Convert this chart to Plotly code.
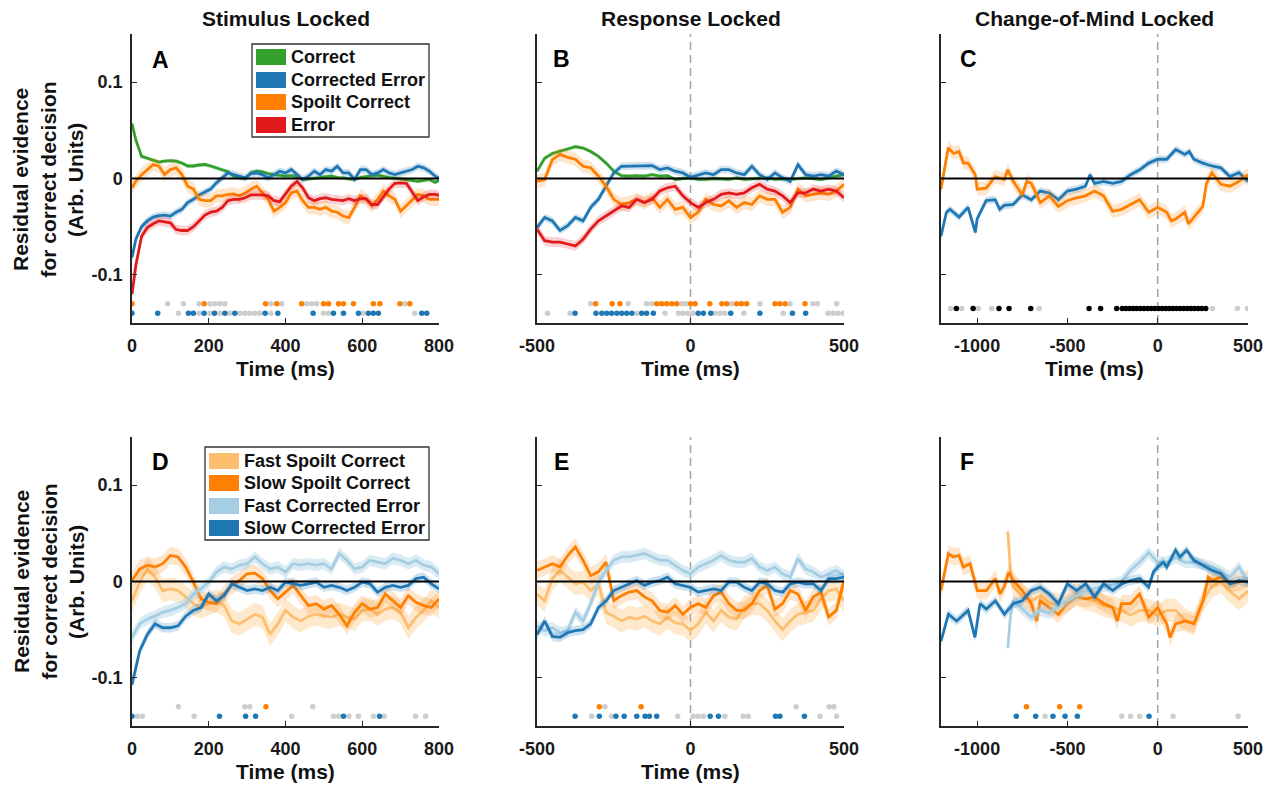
import plotly.graph_objects as go

W, H = 1280, 786

# ------------------------------------------------------------------ data
# Panel A (stimulus locked), time in ms
t_A = [0, 10, 25, 40, 55, 70, 85, 100, 115, 130, 145, 160, 175, 190, 205, 220, 235, 250, 265, 280,
       295, 310, 325, 340, 355, 370, 385, 400, 415, 430, 445, 460, 475, 490, 505, 520, 535, 550, 565,
       580, 595, 610, 625, 640, 655, 670, 685, 700, 715, 730, 745, 760, 775, 790, 800]
A_correct = [0.057, 0.040, 0.023, 0.021, 0.019, 0.017, 0.018, 0.0185, 0.018, 0.016, 0.013, 0.013, 0.014,
             0.0145, 0.013, 0.011, 0.009, 0.007, 0.0024, 0.001, 0.000, 0.006, 0.0076, 0.007, 0.005, 0.004,
             0.003, 0.0024, 0.003, 0.002, -0.001, -0.0005, 0.000, 0.001, 0.002, 0.0024, 0.001, 0.0007,
             -0.0005, -0.001, 0.001, 0.0024, 0.003, 0.0034, 0.002, 0.001, 0.0005, -0.0005, -0.001, -0.002,
             -0.003, -0.002, -0.001, -0.004, -0.002]
A_corrected_error = [-0.082, -0.063, -0.050, -0.044, -0.040, -0.0385, -0.038, -0.039, -0.035, -0.032, -0.025,
                     -0.0216, -0.017, -0.014, -0.011, -0.0045, 0.0007, 0.0058, 0.004, 0.0024, 0.0007, 0.005,
                     0.0058, 0.004, 0.0007, 0.004, 0.0076, 0.0058, 0.0093, 0.004, -0.001, 0.0024, 0.0076,
                     0.004, 0.0093, 0.0076, 0.0127, 0.0058, 0.0058, -0.001, 0.0093, 0.0093, 0.004, 0.0058,
                     0.0093, 0.0058, 0.004, 0.0058, 0.0076, 0.0093, 0.0127, 0.011, 0.0076, 0.0024, 0.0]
A_spoilt_correct = [-0.0096, -0.003, 0.004, 0.0093, 0.0144, 0.0127, 0.004, 0.0093, 0.011, 0.004, -0.008, -0.011,
                    -0.0216, -0.023, -0.023, -0.018, -0.018, -0.0165, -0.016, -0.018, -0.015, -0.011, -0.008,
                    -0.015, -0.0216, -0.034, -0.030, -0.025, -0.015, -0.013, -0.023, -0.030, -0.030, -0.032,
                    -0.030, -0.034, -0.035, -0.039, -0.0405, -0.030, -0.018, -0.0216, -0.0285, -0.0216, -0.013,
                    -0.018, -0.0216, -0.034, -0.0285, -0.023, -0.0165, -0.018, -0.0216, -0.0216, -0.0216]
A_error = [-0.120, -0.090, -0.060, -0.051, -0.047, -0.044, -0.045, -0.046, -0.053, -0.054, -0.054, -0.050,
           -0.044, -0.038, -0.035, -0.034, -0.030, -0.023, -0.0216, -0.0216, -0.020, -0.017, -0.017, -0.017,
           -0.018, -0.023, -0.024, -0.016, -0.008, -0.003, -0.010, -0.020, -0.023, -0.021, -0.020, -0.0216,
           -0.022, -0.023, -0.021, -0.023, -0.021, -0.021, -0.027, -0.027, -0.019, -0.011, -0.005, -0.0045,
           -0.005, -0.014, -0.023, -0.019, -0.0165, -0.0165, -0.0175]

# Panel B (response locked)
t_B = [-500, -475, -450, -425, -400, -375, -350, -325, -300, -275, -250, -225, -200, -175, -150, -125, -100,
       -75, -50, -25, 0, 25, 50, 75, 100, 125, 150, 175, 200, 225, 250, 275, 300, 325, 350, 375, 400, 425,
       450, 475, 500]
B_correct = [0.0076, 0.021, 0.026, 0.028, 0.0306, 0.033, 0.0316, 0.028, 0.023, 0.016, 0.0076, 0.003, 0.0024,
             0.003, 0.0024, 0.004, 0.0024, 0.003, -0.001, 0.0, 0.0007, -0.001, -0.001, 0.0, -0.0003, -0.001,
             0.0007, -0.001, -0.0003, 0.0, 0.0007, -0.001, -0.0003, -0.001, 0.0, 0.0007, 0.0, -0.001, 0.0007,
             0.0024, 0.004]
B_corrected_error = [-0.051, -0.0405, -0.044, -0.054, -0.049, -0.0405, -0.044, -0.030, -0.0216, -0.008, 0.0058,
                     0.0127, 0.0127, 0.0134, 0.0127, 0.0134, 0.0093, 0.011, 0.0076, 0.0058, 0.0014, 0.004,
                     0.0058, 0.004, 0.0093, 0.0093, 0.0058, 0.004, 0.0127, 0.004, -0.001, 0.0058, 0.0007,
                     -0.003, 0.0144, 0.004, 0.0024, 0.004, 0.0024, 0.0076, 0.004]
B_spoilt_correct = [-0.003, -0.001, 0.0196, 0.025, 0.022, 0.020, 0.0127, 0.011, 0.0024, -0.008, -0.0216, -0.027,
                    -0.025, -0.0216, -0.025, -0.020, -0.030, -0.0216, -0.032, -0.030, -0.0405, -0.035, -0.0216,
                    -0.027, -0.0285, -0.023, -0.030, -0.025, -0.027, -0.018, -0.0216, -0.0216, -0.035, -0.030,
                    -0.011, -0.018, -0.0165, -0.015, -0.0165, -0.013, -0.006]
B_error = [-0.0526, -0.0646, -0.066, -0.066, -0.068, -0.070, -0.063, -0.0526, -0.044, -0.039, -0.034, -0.0285,
           -0.030, -0.0216, -0.025, -0.0216, -0.013, -0.0096, -0.008, -0.018, -0.025, -0.030, -0.025, -0.0216,
           -0.0165, -0.015, -0.0165, -0.015, -0.0096, -0.006, -0.011, -0.013, -0.018, -0.025, -0.015, -0.015,
           -0.011, -0.013, -0.011, -0.013, -0.020]

# Panel C (change-of-mind locked)
t_C_ce = [-1200, -1170, -1150, -1100, -1050, -1010, -1000, -950, -900, -875, -850, -800, -750, -700, -650,
          -600, -550, -500, -450, -400, -375, -350, -300, -250, -200, -150, -100, -50, 0, 50, 100, 150, 175,
          200, 250, 300, 350, 400, 450, 500]
C_corrected_error = [-0.060, -0.035, -0.032, -0.040, -0.030, -0.056, -0.042, -0.023, -0.022, -0.032, -0.028,
                     -0.027, -0.017, -0.022, -0.013, -0.015, -0.022, -0.013, -0.011, -0.008, 0.004, -0.005,
                     -0.003, -0.005, -0.003, 0.004, 0.009, 0.016, 0.020, 0.020, 0.030, 0.025, 0.028, 0.020,
                     0.016, 0.013, 0.011, 0.002, 0.006, -0.003]
t_C_sc = [-1200, -1160, -1130, -1100, -1075, -1050, -1010, -1000, -950, -900, -850, -830, -800, -750, -725,
          -700, -650, -600, -550, -500, -450, -400, -350, -300, -250, -200, -150, -100, -50, 0, 50, 75, 100,
          150, 170, 200, 250, 270, 300, 350, 400, 450, 500]
C_spoilt_correct = [-0.011, 0.032, 0.026, 0.028, 0.016, 0.016, 0.004, -0.011, -0.010, 0.002, -0.001, 0.009,
                    -0.003, -0.017, -0.003, -0.005, -0.025, -0.018, -0.029, -0.023, -0.020, -0.018, -0.013,
                    -0.018, -0.034, -0.032, -0.027, -0.022, -0.035, -0.030, -0.035, -0.044, -0.042, -0.035,
                    -0.047, -0.040, -0.029, -0.005, 0.006, -0.006, -0.008, -0.003, 0.004]

# Panel D (stimulus locked, fast / slow)
t_D = [0, 20, 40, 60, 80, 100, 120, 140, 160, 180, 200, 220, 240, 260, 280, 300, 320, 340, 360, 380, 400,
       420, 440, 460, 480, 500, 520, 540, 560, 580, 600, 620, 640, 660, 680, 700, 720, 740, 760, 780, 800]
D_fast_spoilt = [-0.020, -0.0007, 0.013, 0.0045, -0.0094, -0.0077, -0.0094, -0.016, -0.023, -0.027, -0.023,
                 -0.020, -0.025, -0.041, -0.044, -0.039, -0.034, -0.037, -0.055, -0.044, -0.030, -0.037, -0.041,
                 -0.036, -0.034, -0.036, -0.037, -0.034, -0.037, -0.039, -0.030, -0.0287, -0.034, -0.0287,
                 -0.027, -0.032, -0.048, -0.037, -0.030, -0.020, -0.027]
D_slow_spoilt = [0.001, 0.013, 0.017, 0.015, 0.0185, 0.027, 0.0255, 0.015, -0.0007, -0.018, -0.0217, -0.023,
                 -0.013, -0.004, 0.001, 0.008, 0.0087, 0.003, -0.0094, -0.018, -0.011, -0.004, -0.0147, -0.025,
                 -0.023, -0.0287, -0.025, -0.034, -0.046, -0.032, -0.023, -0.0287, -0.027, -0.013, -0.020,
                 -0.027, -0.0147, -0.0217, -0.025, -0.027, -0.018]
D_fast_corrected = [-0.058, -0.044, -0.039, -0.036, -0.032, -0.030, -0.027, -0.023, -0.013, -0.0077, -0.0007,
                    0.0098, 0.015, 0.013, 0.017, 0.0185, 0.0255, 0.0185, 0.013, 0.015, 0.0098, 0.0185, 0.017,
                    0.0185, 0.017, 0.0185, 0.013, 0.029, 0.022, 0.013, 0.015, 0.022, 0.020, 0.0185, 0.024,
                    0.022, 0.0185, 0.022, 0.017, 0.015, 0.008]
D_slow_corrected = [-0.107, -0.072, -0.055, -0.044, -0.048, -0.048, -0.046, -0.036, -0.030, -0.027, -0.013,
                    -0.020, -0.0147, -0.0024, -0.006, -0.0094, -0.0077, -0.0094, -0.006, -0.0094, -0.0007,
                    -0.0024, -0.004, -0.0024, -0.0007, -0.006, -0.004, -0.006, -0.0094, -0.006, -0.0007,
                    -0.0024, -0.011, -0.006, -0.004, -0.006, -0.004, 0.003, 0.0045, -0.0024, -0.0077]

# Panel E (response locked, fast / slow) -- same time grid as B
E_fast_spoilt = [-0.013, -0.020, 0.003, 0.0115, 0.0045, -0.0024, -0.0007, -0.0094, -0.0024, -0.032, -0.036,
                 -0.041, -0.037, -0.039, -0.036, -0.041, -0.044, -0.037, -0.043, -0.044, -0.051, -0.044,
                 -0.032, -0.041, -0.030, -0.037, -0.039, -0.027, -0.023, -0.023, -0.030, -0.041, -0.050,
                 -0.041, -0.034, -0.032, -0.030, -0.018, -0.0094, -0.0077, -0.020]
E_slow_spoilt = [0.0115, 0.015, 0.0185, 0.015, 0.027, 0.036, 0.022, 0.006, 0.010, 0.020, -0.020, -0.0147,
                 -0.011, -0.0094, -0.016, -0.020, -0.030, -0.032, -0.025, -0.034, -0.027, -0.023, -0.027,
                 -0.0147, -0.011, -0.023, -0.030, -0.030, -0.023, -0.0094, -0.004, -0.0287, -0.023, -0.0094,
                 -0.013, -0.030, -0.016, -0.011, -0.037, -0.030, 0.001]
E_fast_corrected = [-0.046, -0.051, -0.048, -0.053, -0.051, -0.032, -0.041, -0.023, -0.0007, 0.0115, 0.022,
                    0.0255, 0.0255, 0.027, 0.029, 0.0255, 0.022, 0.022, 0.017, 0.0115, 0.008, 0.015, 0.0185,
                    0.022, 0.027, 0.022, 0.020, 0.020, 0.024, 0.015, 0.0115, 0.015, 0.008, 0.0045, 0.024,
                    0.013, 0.0098, 0.0045, 0.008, 0.0115, 0.006]
E_slow_corrected = [-0.055, -0.041, -0.057, -0.058, -0.053, -0.051, -0.050, -0.044, -0.027, -0.020, -0.0094,
                    -0.006, -0.0024, 0.001, -0.004, -0.0007, 0.001, 0.0045, -0.0024, -0.004, -0.006, -0.011,
                    -0.0094, -0.0077, -0.0094, -0.0007, -0.0007, -0.006, -0.0094, -0.0007, -0.0024, -0.0094,
                    -0.011, -0.0024, -0.0007, -0.0024, -0.0024, -0.0094, 0.003, 0.003, 0.0045]

# Panel F (change-of-mind locked, fast / slow)
t_F_fs = [-830, -815, -800, -750, -700, -650, -600, -550, -500, -450, -400, -350, -300, -250, -200, -150,
          -100, -50, 0, 50, 100, 150, 200, 250, 300, 350, 400, 450, 500]
F_fast_spoilt = [0.052, 0.010, -0.005, -0.015, -0.020, -0.015, -0.022, -0.025, -0.020, -0.013, -0.018, -0.020,
                 -0.025, -0.027, -0.030, -0.035, -0.030, -0.030, -0.035, -0.030, -0.030, -0.040, -0.044,
                 -0.020, -0.005, 0.000, -0.010, -0.018, -0.010]
t_F_ss = [-1200, -1159, -1132, -1100, -1076, -1039, -999, -949, -899, -873, -849, -825, -800, -750, -700,
          -670, -650, -600, -550, -500, -449, -399, -349, -299, -249, -224, -200, -150, -100, -50, 0, 50, 68,
          99, 151, 201, 251, 280, 301, 350, 400, 450, 500]
F_slow_spoilt = [-0.0094, 0.029, 0.0255, 0.027, 0.015, 0.0185, -0.0094, -0.0094, 0.003, -0.013, -0.005,
                 0.0098, 0.001, -0.0094, -0.023, -0.041, -0.020, -0.027, -0.034, -0.023, -0.016, -0.018,
                 -0.016, -0.023, -0.027, -0.041, -0.023, -0.023, -0.013, -0.037, -0.027, -0.044, -0.058,
                 -0.044, -0.041, -0.044, -0.020, 0.0045, 0.001, 0.0045, -0.0024, -0.0007, 0.003]
t_F_fc = [-830, -815, -800, -750, -700, -650, -600, -550, -500, -450, -400, -350, -300, -250, -200, -150,
          -100, -75, -50, -25, 0, 50, 100, 150, 200, 250, 300, 350, 400, 450, 500]
F_fast_corrected = [-0.069, -0.035, -0.020, -0.028, -0.037, -0.030, -0.033, -0.025, -0.020, -0.015, -0.010,
                    -0.007, -0.005, -0.003, 0.000, 0.012, 0.020, 0.025, 0.030, 0.025, 0.020, 0.020, 0.025,
                    0.020, 0.020, 0.018, 0.015, 0.010, 0.005, 0.015, 0.000]
t_F_sc = [-1200, -1159, -1113, -1050, -1012, -984, -949, -899, -849, -800, -750, -700, -650, -600, -550,
          -500, -449, -399, -349, -299, -249, -200, -150, -100, -50, -24, 0, 31, 50, 99, 123, 160, 201, 251,
          301, 350, 400, 450, 500]
F_slow_corrected = [-0.062, -0.034, -0.041, -0.030, -0.058, -0.023, -0.0287, -0.020, -0.034, -0.023, -0.020,
                    -0.0094, -0.006, -0.013, -0.023, -0.0024, -0.0094, -0.0024, -0.016, -0.0024, -0.0094,
                    -0.0024, 0.001, 0.003, -0.006, 0.0098, 0.015, 0.020, 0.015, 0.0325, 0.0255, 0.0325, 0.022,
                    0.017, 0.0115, 0.008, -0.0024, 0.001, -0.0007]

# standard errors (half-width of shaded bands)
sem_top = {"correct": 0.002, "corrected_error": 0.004, "spoilt_correct": 0.007, "error": 0.005}
sem_bottom = {"fast_spoilt": 0.012, "slow_spoilt": 0.009, "fast_corrected": 0.006, "slow_corrected": 0.005}

# significant time points (ms)
A_sig_sc = [0, 188, 348, 377, 442, 499, 512, 538, 551, 577, 629, 646, 698, 724]
A_sig_sc_gray = [93, 134, 175, 203, 216, 229, 242, 362, 390, 455, 468, 481, 711]
A_sig_ce = [0, 67, 147, 160, 188, 215, 242, 268, 347, 380, 472, 525, 551, 590, 616, 629, 642, 755, 768]
A_sig_ce_gray = [121, 175, 203, 229, 255, 281, 294, 307, 320, 333, 362, 499, 512, 603, 737]
B_sig_sc = [-309, -255, -230, -110, -94, -78, -61, -45, 0, 15, 63, 102, 118, 150, 166, 183, 275, 291, 308, 373]
B_sig_sc_gray = [-325, -203, -143, -126, -28, -15, 134, 226, 324, 398, 413, 476]
B_sig_ce = [-376, -308, -289, -273, -257, -240, -224, -208, -191, -159, -143, -121, 25, 42, 66, 131, 226, 332, 375]
B_sig_ce_gray = [-466, -392, -175, -83, -39, -24, -8, 8, 80, 96, 112, 174, 302, 448, 464, 480, 497]
C_sig = [-1115, -1022, -879, -823, -703, -380, -316, -227, -196, -176, -156, -136, -116, -96, -76, -56, -36,
         -16, 4, 24, 44, 64, 84, 104, 124, 144, 164, 184, 204, 224, 244, 266]
C_sig_gray = [-1146, -1085, -993, -919, -657, 303, 441, 497]
D_sig_sc = [349]
D_sig_sc_gray = [121, 294, 307, 471]
D_sig_ce = [0, 228, 296, 322, 551, 645]
D_sig_ce_gray = [14, 27, 162, 416, 525, 538, 565, 590, 629, 657, 739, 765]
E_sig_sc = [-297, -161]
E_sig_sc_gray = [-279, 344, 452, 467]
E_sig_ce = [-376, -297, -243, -216, -175, -148, -134, -110, 64, 91, 277, 291, 371]
E_sig_ce_gray = [-322, -257, -42, 9, 25, 42, 112, 172, 188, 422, 476]
F_sig_sc = [-727, -543, -432]
F_sig_ce = [-783, -676, -580, -513, -445, -48]
F_sig_ce_gray = [-624, -199, -150, -100, 85, 445]

# ------------------------------------------------------------------ styling
GREEN, BLUE, ORANGE, RED = "#33a02c", "#1f78b4", "#ff7f00", "#e31a1c"
LORANGE, LBLUE = "#fdbf6f", "#a6cee3"
BAND = {GREEN: "rgba(51,160,44,0.25)", BLUE: "rgba(31,120,180,0.22)", ORANGE: "rgba(255,127,0,0.20)",
        RED: "rgba(227,26,28,0.20)", LORANGE: "rgba(253,191,111,0.35)", LBLUE: "rgba(166,206,227,0.40)"}
GRAY = "#cdcdcd"
AXC = "#262626"
FONT = "Liberation Sans, Arial, Helvetica, sans-serif"

fig = go.Figure()


def axes(p):
    return ("x" if p == 1 else f"x{p}"), ("y" if p == 1 else f"y{p}")


def add_series(p, t, y, sem, color):
    xa, ya = axes(p)
    up = [v + sem for v in y]
    lo = [v - sem for v in y]
    fig.add_trace(go.Scatter(x=t + t[::-1], y=up + lo[::-1], fill="toself", fillcolor=BAND[color],
                             line=dict(width=0), mode="lines", hoverinfo="skip", showlegend=False,
                             xaxis=xa, yaxis=ya))
    fig.add_trace(go.Scatter(x=t, y=y, mode="lines", line=dict(color=color, width=2.8),
                             showlegend=False, xaxis=xa, yaxis=ya))


def add_dots(p, xs, level, color):
    xa, ya = axes(p)
    fig.add_trace(go.Scatter(x=xs, y=[level] * len(xs), mode="markers",
                             marker=dict(size=5.5, color=color, line=dict(width=0)),
                             showlegend=False, xaxis=xa, yaxis=ya))


ROW1, ROW2, ROWC = -0.13, -0.14, -0.135

# Panel A
add_series(1, t_A, A_correct, sem_top["correct"], GREEN)
add_series(1, t_A, A_corrected_error, sem_top["corrected_error"], BLUE)
add_series(1, t_A, A_spoilt_correct, sem_top["spoilt_correct"], ORANGE)
add_series(1, t_A, A_error, sem_top["error"], RED)
add_dots(1, A_sig_sc_gray, ROW1, GRAY); add_dots(1, A_sig_sc, ROW1, ORANGE)
add_dots(1, A_sig_ce_gray, ROW2, GRAY); add_dots(1, A_sig_ce, ROW2, BLUE)
# Panel B
add_series(2, t_B, B_correct, sem_top["correct"], GREEN)
add_series(2, t_B, B_corrected_error, sem_top["corrected_error"], BLUE)
add_series(2, t_B, B_spoilt_correct, sem_top["spoilt_correct"], ORANGE)
add_series(2, t_B, B_error, sem_top["error"], RED)
add_dots(2, B_sig_sc_gray, ROW1, GRAY); add_dots(2, B_sig_sc, ROW1, ORANGE)
add_dots(2, B_sig_ce_gray, ROW2, GRAY); add_dots(2, B_sig_ce, ROW2, BLUE)
# Panel C
add_series(3, t_C_ce, C_corrected_error, sem_top["corrected_error"], BLUE)
add_series(3, t_C_sc, C_spoilt_correct, sem_top["spoilt_correct"], ORANGE)
add_dots(3, C_sig_gray, ROWC, GRAY); add_dots(3, C_sig, ROWC, "black")
# Panel D
add_series(4, t_D, D_fast_spoilt, sem_bottom["fast_spoilt"], LORANGE)
add_series(4, t_D, D_slow_spoilt, sem_bottom["slow_spoilt"], ORANGE)
add_series(4, t_D, D_fast_corrected, sem_bottom["fast_corrected"], LBLUE)
add_series(4, t_D, D_slow_corrected, sem_bottom["slow_corrected"], BLUE)
add_dots(4, D_sig_sc_gray, ROW1, GRAY); add_dots(4, D_sig_sc, ROW1, ORANGE)
add_dots(4, D_sig_ce_gray, ROW2, GRAY); add_dots(4, D_sig_ce, ROW2, BLUE)
# Panel E
add_series(5, t_B, E_fast_spoilt, sem_bottom["fast_spoilt"], LORANGE)
add_series(5, t_B, E_slow_spoilt, sem_bottom["slow_spoilt"], ORANGE)
add_series(5, t_B, E_fast_corrected, sem_bottom["fast_corrected"], LBLUE)
add_series(5, t_B, E_slow_corrected, sem_bottom["slow_corrected"], BLUE)
add_dots(5, E_sig_sc_gray, ROW1, GRAY); add_dots(5, E_sig_sc, ROW1, ORANGE)
add_dots(5, E_sig_ce_gray, ROW2, GRAY); add_dots(5, E_sig_ce, ROW2, BLUE)
# Panel F
add_series(6, t_F_fs, F_fast_spoilt, sem_bottom["fast_spoilt"], LORANGE)
add_series(6, t_F_ss, F_slow_spoilt, sem_bottom["slow_spoilt"], ORANGE)
add_series(6, t_F_fc, F_fast_corrected, sem_bottom["fast_corrected"], LBLUE)
add_series(6, t_F_sc, F_slow_corrected, sem_bottom["slow_corrected"], BLUE)
add_dots(6, F_sig_sc, ROW1, ORANGE)
add_dots(6, F_sig_ce_gray, ROW2, GRAY); add_dots(6, F_sig_ce, ROW2, BLUE)

# ------------------------------------------------------------------ layout
def fx(px):
    return px / W


def fy(py):
    return 1 - py / H


COLS = [(132, 439), (537, 844), (941, 1248)]
ROWS = [(34, 323), (437, 726)]
XR = [(0, 800), (-500, 500), (-1200, 500)]
XT = [[0, 200, 400, 600, 800], [-500, 0, 500], [-1000, -500, 0, 500]]
TICKFONT = dict(family=FONT, size=18, color="#1a1a1a", weight="bold")

layout = dict(width=W, height=H, margin=dict(l=0, r=0, t=0, b=0, autoexpand=False), paper_bgcolor="white",
              plot_bgcolor="white", showlegend=False)
shapes, annotations = [], []
for p in range(1, 7):
    r = 0 if p <= 3 else 1
    c = (p - 1) % 3
    xa, ya = axes(p)
    xk = "xaxis" if p == 1 else f"xaxis{p}"
    yk = "yaxis" if p == 1 else f"yaxis{p}"
    layout[xk] = dict(domain=[fx(COLS[c][0]), fx(COLS[c][1])], anchor=ya, range=list(XR[c]),
                      tickvals=XT[c], ticktext=[str(v) for v in XT[c]], showline=True, linecolor=AXC,
                      linewidth=1.5, ticks="inside", ticklen=5, tickwidth=1.2, tickcolor=AXC,
                      showgrid=False, zeroline=False, tickfont=TICKFONT, ticklabelstandoff=6,
                      automargin=False, fixedrange=True)
    layout[yk] = dict(domain=[fy(ROWS[r][1]), fy(ROWS[r][0])], anchor=xa, range=[-0.15, 0.15],
                      tickvals=[-0.1, 0, 0.1], ticktext=["-0.1", "0", "0.1"], showticklabels=(c == 0),
                      showline=True, linecolor=AXC, linewidth=1.5, ticks="inside", ticklen=5,
                      tickwidth=1.2, tickcolor=AXC, showgrid=False, zeroline=False, tickfont=TICKFONT,
                      ticklabelstandoff=4, automargin=False, fixedrange=True)
    # zero line
    shapes.append(dict(type="line", xref=f"{xa} domain", x0=0, x1=1, yref=ya, y0=0, y1=0,
                       line=dict(color="black", width=2)))
    if c > 0:
        shapes.append(dict(type="line", xref=xa, x0=0, x1=0, yref=f"{ya} domain", y0=0, y1=1,
                           line=dict(color="#a3a3a3", width=1.5, dash="8px,5px"), layer="below"))

# titles
for txt, cx in [("Stimulus Locked", 285.5), ("Response Locked", 690.5), ("Change-of-Mind Locked", 1094.5)]:
    annotations.append(dict(text=f"<b>{txt}</b>", x=fx(cx), y=fy(18), xref="paper", yref="paper",
                            showarrow=False, xanchor="center", yanchor="middle",
                            font=dict(family=FONT, size=21, color="#111")))
# panel letters
for txt, cx, cy in [("A", 160, 60), ("B", 561, 59), ("C", 968, 59), ("D", 160, 462), ("E", 561, 462),
                    ("F", 967, 462)]:
    annotations.append(dict(text=f"<b>{txt}</b>", x=fx(cx), y=fy(cy), xref="paper", yref="paper",
                            showarrow=False, xanchor="center", yanchor="middle",
                            font=dict(family=FONT, size=23, color="black")))
# x labels
for cx, cy in [(285.5, 368), (690.5, 368), (1094.5, 368), (285.5, 771), (690.5, 771)]:
    annotations.append(dict(text="<b>Time (ms)</b>", x=fx(cx), y=fy(cy), xref="paper", yref="paper",
                            showarrow=False, xanchor="center", yanchor="middle",
                            font=dict(family=FONT, size=21, color="#111")))
# y labels (three lines, placed individually to match line spacing)
for cy in [180, 582]:
    for txt, cx in [("Residual evidence", 21), ("for correct decision", 48.5), ("(Arb. Units)", 76)]:
        annotations.append(dict(text=f"<b>{txt}</b>", x=fx(cx), y=fy(cy), xref="paper", yref="paper",
                                showarrow=False, textangle=-90, xanchor="center", yanchor="middle",
                                font=dict(family=FONT, size=21, color="#111")))

# legends (boxes with colour patches)
def legend(box, swatch_x, text_x, rows, items):
    x0, y0, x1, y1 = box
    shapes.append(dict(type="rect", xref="paper", yref="paper", x0=fx(x0), x1=fx(x1), y0=fy(y1), y1=fy(y0),
                       line=dict(color="#333", width=1.3), fillcolor="white", layer="above"))
    for (label, col), ry in zip(items, rows):
        shapes.append(dict(type="rect", xref="paper", yref="paper", x0=fx(swatch_x[0]), x1=fx(swatch_x[1]),
                           y0=fy(ry + 8), y1=fy(ry - 8), line=dict(width=0), fillcolor=col, layer="above"))
        annotations.append(dict(text=f"<b>{label}</b>", x=fx(text_x), y=fy(ry), xref="paper", yref="paper",
                                showarrow=False, xanchor="left", yanchor="middle",
                                font=dict(family=FONT, size=18, color="#111")))


legend((252, 44, 429, 137), (256, 286), 289, [57, 80, 102, 125],
       [("Correct", GREEN), ("Corrected Error", BLUE), ("Spoilt Correct", ORANGE), ("Error", RED)])
legend((205, 447, 429, 540), (209, 239), 242, [461, 483, 506, 528],
       [("Fast Spoilt Correct", LORANGE), ("Slow Spoilt Correct", ORANGE),
        ("Fast Corrected Error", LBLUE), ("Slow Corrected Error", BLUE)])

layout["shapes"] = shapes
layout["annotations"] = annotations
fig.update_layout(**layout)

fig.write_html("out.html", config={"displayModeBar": False},
               post_script="document.body.style.margin='0';document.body.style.overflow='hidden';")
